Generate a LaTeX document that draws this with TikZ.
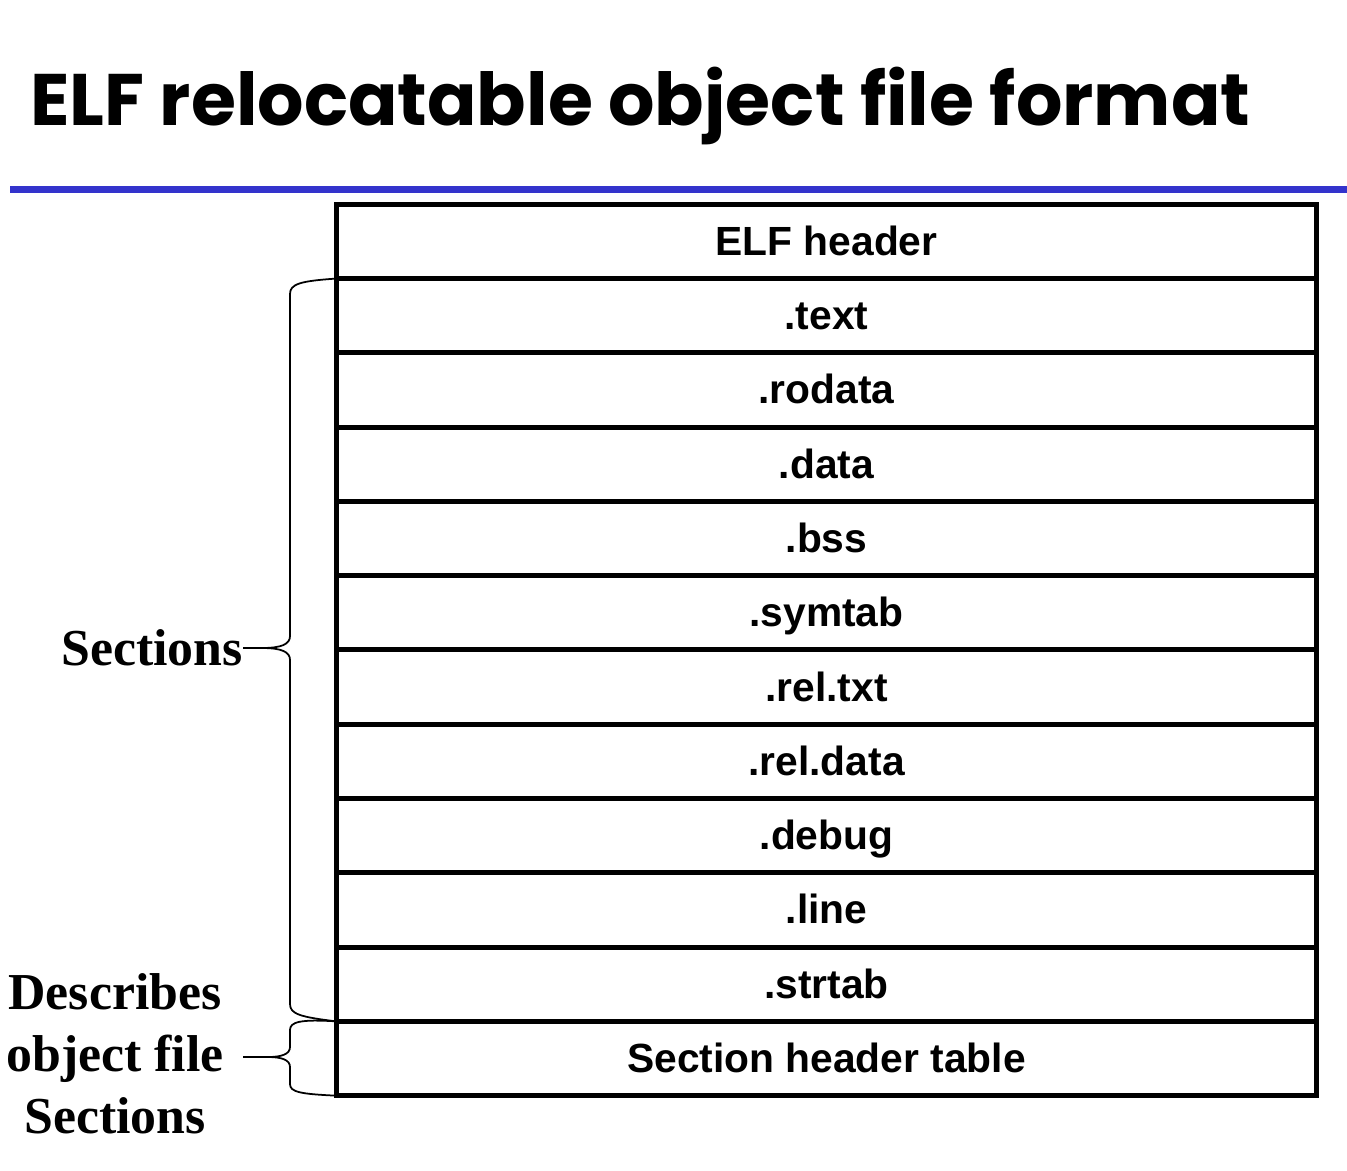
\documentclass[tikz,border=0pt]{standalone}
\usepackage{fontspec}
\usepackage{xcolor}
\usepackage{tikz}
\usetikzlibrary{positioning}
\newfontfamily\rowfont{Liberation Sans}
\newfontfamily\labfont{Liberation Serif}
\newfontfamily\titlefont{Poppins}
\definecolor{rule}{HTML}{3333CC}
\definecolor{ink}{HTML}{000000}
\tikzset{
  sec/.style={draw=ink, line width=2.85pt, minimum width=19.6cm, minimum height=1.486cm,
    inner sep=0pt, outer sep=0pt, text height=0.56cm, text depth=0pt,
    font=\rowfont\bfseries\fontsize{23.2}{26}\selectfont},
  brc/.style={draw=ink, line width=1pt, line join=round},
  lab/.style={text=ink, font=\labfont\bfseries\fontsize{29.5}{35.3}\selectfont, align=center, inner sep=0pt},
  ttl/.style={text=ink, anchor=base west, inner sep=0pt, font=\titlefont\bfseries},
}
\begin{document}
\begin{tikzpicture}[x=0.02cm, y=-0.02cm]
  \useasboundingbox (0,0) rectangle (1347,1171);
  \node[ttl] (title) at (30,125) {\resizebox{24.4cm}{!}{ELF relocatable object file format}};
  \draw[draw=rule, line width=0.14cm] (10,189.5) -- (1347,189.5);

  \node[sec] (hdr) at (826.5,241.4) {ELF header};
  \node[sec, below=0pt of hdr] (txt) {.text};
  \node[sec, below=0pt of txt] (rodata) {.rodata};
  \node[sec, below=0pt of rodata] (data) {.data};
  \node[sec, below=0pt of data] (bss) {.bss};
  \node[sec, below=0pt of bss] (symtab) {.symtab};
  \node[sec, below=0pt of symtab] (reltxt) {.rel.txt};
  \node[sec, below=0pt of reltxt] (reldata) {.rel.data};
  \node[sec, below=0pt of reldata] (debug) {.debug};
  \node[sec, below=0pt of debug] (lines) {.line};
  \node[sec, below=0pt of lines] (strtab) {.strtab};
  \node[sec, below=0pt of strtab] (sht) {Section header table};

  % sections brace
  \coordinate (tipA) at (262,648);
  \coordinate (tailA) at (243,648);
  \draw[brc] (txt.north west) .. controls (300,281) and (290,284) .. (290,294) -- (290,636)
    .. controls (290,644) and (282,648) .. (tipA) .. controls (282,648) and (290,652) .. (290,660)
    -- (290,1004) .. controls (290,1014) and (300,1017) .. (strtab.south west);
  \draw[brc] (tailA) -- (tipA);
  \node[lab, anchor=east] (secs) at (tailA) {Sections};

  % header table brace
  \coordinate (tipB) at (268,1057);
  \coordinate (tailB) at (243,1057);
  \draw[brc] (sht.north west) .. controls (300,1019) and (290,1022) .. (290,1030) -- (290,1047)
    .. controls (290,1054) and (282,1057) .. (tipB) .. controls (282,1057) and (290,1060) .. (290,1067)
    -- (290,1084) .. controls (290,1092) and (300,1094) .. (sht.south west);
  \draw[brc] (tailB) -- (tipB);
  \node[lab] (desc) at (115,1054) {Describes\\object file\\Sections};
\end{tikzpicture}
\end{document}
